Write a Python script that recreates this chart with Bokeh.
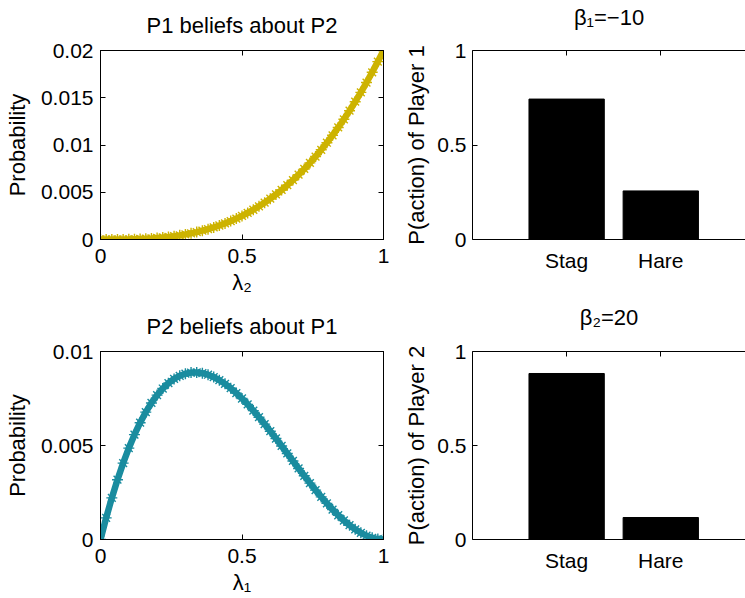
from bokeh.plotting import figure
from bokeh.models import (FixedTicker, LinearAxis, Range1d, CustomJSTickFormatter,
                          CustomLabelingPolicy)
from bokeh.layouts import gridplot
from bokeh.embed import file_html
from bokeh.resources import INLINE

# ---------------- data ----------------
lambda_grid = [0.00, 0.02, 0.04, 0.06, 0.08, 0.10, 0.12, 0.14, 0.16, 0.18,
               0.20, 0.22, 0.24, 0.26, 0.28, 0.30, 0.32, 0.34, 0.36, 0.38,
               0.40, 0.42, 0.44, 0.46, 0.48, 0.50, 0.52, 0.54, 0.56, 0.58,
               0.60, 0.62, 0.64, 0.66, 0.68, 0.70, 0.72, 0.74, 0.76, 0.78,
               0.80, 0.82, 0.84, 0.86, 0.88, 0.90, 0.92, 0.94, 0.96, 0.98, 1.00]

p1_beliefs_about_p2 = [0.0, 0.0, 0.000001, 0.000004, 0.00001, 0.00002, 0.000035, 0.000055, 0.000082, 0.000117,
                       0.00016, 0.000213, 0.000276, 0.000352, 0.000439, 0.00054, 0.000655, 0.000786, 0.000933, 0.001097,
                       0.00128, 0.001482, 0.001704, 0.001947, 0.002212, 0.0025, 0.002812, 0.003149, 0.003512, 0.003902,
                       0.00432, 0.004766, 0.005243, 0.00575, 0.006288, 0.00686, 0.007465, 0.008104, 0.00878, 0.009491,
                       0.01024, 0.011027, 0.011854, 0.012721, 0.013629, 0.01458, 0.015574, 0.016611, 0.017695, 0.018824, 0.02]

p2_beliefs_about_p1 = [0.0, 0.001152, 0.002212, 0.003181, 0.004063, 0.00486, 0.005576, 0.006213, 0.006774, 0.007262,
                       0.00768, 0.008031, 0.008317, 0.008543, 0.008709, 0.00882, 0.008878, 0.008886, 0.008847, 0.008764,
                       0.00864, 0.008477, 0.008279, 0.008048, 0.007788, 0.0075, 0.007188, 0.006856, 0.006505, 0.006139,
                       0.00576, 0.005372, 0.004977, 0.004578, 0.004178, 0.00378, 0.003387, 0.003001, 0.002627, 0.002265,
                       0.00192, 0.001594, 0.00129, 0.001011, 0.00076, 0.00054, 0.000353, 0.000203, 0.000092, 0.000024, 0.0]

actions = ["Stag", "Hare"]
p_action_player1 = [0.743, 0.257]
p_action_player2 = [0.883, 0.117]

yticks_p1 = [0, 0.005, 0.01, 0.015, 0.02]
yticks_p2 = [0, 0.005, 0.01]
xticks_lambda = [0, 0.5, 1]
yticks_bar = [0, 0.5, 1]

FONT = "Liberation Sans"
YELLOW = "#CDB300"
TEAL = "#1A8C9F"


def num_formatter():
    return CustomJSTickFormatter(code="return String(Math.round(tick*100000)/100000);")


def no_labels_policy():
    return CustomLabelingPolicy(code="for (const i of indices) { indices.unset(i) }\nreturn indices")


def style_axis(ax, ticks, show_labels=True):
    ax.ticker = FixedTicker(ticks=ticks)
    ax.major_tick_in = 5
    ax.major_tick_out = 0
    ax.minor_tick_line_color = None
    ax.axis_line_color = "black"
    ax.major_tick_line_color = "black"
    ax.major_label_text_font = FONT
    ax.major_label_text_color = "black"
    ax.major_label_text_font_size = "21px"
    if not show_labels:
        ax.major_label_policy = no_labels_policy()
        ax.major_label_text_font_size = "0px"
        ax.major_label_standoff = 0
    ax.axis_label_text_font = FONT
    ax.axis_label_text_font_size = "22px"
    ax.axis_label_text_font_style = "normal"
    ax.axis_label_text_color = "black"


def curve_panel(y, color, ymax, yticks, title, xlabel, height, top, bottom, title_standoff):
    p = figure(width=400, height=height, x_range=Range1d(0, 1), y_range=Range1d(0, ymax),
               output_backend="svg", toolbar_location=None, title=None,
               min_border_left=100, min_border_right=17,
               min_border_top=top, min_border_bottom=bottom)
    p.grid.visible = False
    p.outline_line_color = "black"
    p.background_fill_color = "white"
    p.border_fill_color = "white"
    p.line(lambda_grid, y, line_color=color, line_width=6.5)
    p.scatter(lambda_grid, y, marker="asterisk", size=11, line_color=color, line_width=1.4)
    p.xaxis.axis_label = xlabel
    p.yaxis.axis_label = "Probability"
    style_axis(p.xaxis[0], xticks_lambda)
    style_axis(p.yaxis[0], yticks)
    p.xaxis[0].formatter = num_formatter()
    p.yaxis[0].formatter = num_formatter()
    p.xaxis[0].major_label_standoff = 9
    p.yaxis[0].major_label_standoff = 7
    p.xaxis[0].axis_label_standoff = 4
    p.yaxis[0].axis_label_standoff = 8
    top_ax = LinearAxis(axis_label=title)
    style_axis(top_ax, xticks_lambda, show_labels=False)
    top_ax.axis_label_standoff = title_standoff
    p.add_layout(top_ax, "above")
    right_ax = LinearAxis()
    style_axis(right_ax, yticks, show_labels=False)
    p.add_layout(right_ax, "right")
    return p


def bar_panel(values, title, ylabel, height, top, bottom, title_standoff):
    positions = [i + 1 for i in range(len(actions))]
    p = figure(width=345, height=height, x_range=Range1d(0, 2.9), y_range=Range1d(0, 1),
               output_backend="svg", toolbar_location=None, title=None,
               min_border_left=72, min_border_right=0,
               min_border_top=top, min_border_bottom=bottom)
    p.grid.visible = False
    p.outline_line_color = None
    p.background_fill_color = "white"
    p.border_fill_color = "white"
    p.vbar(x=positions, top=values, width=0.8, fill_color="black", line_color="black")
    p.yaxis.axis_label = ylabel
    style_axis(p.xaxis[0], positions)
    style_axis(p.yaxis[0], yticks_bar)
    p.xaxis[0].major_label_overrides = {pos: name for pos, name in zip(positions, actions)}
    p.yaxis[0].formatter = num_formatter()
    p.xaxis[0].major_label_standoff = 9
    p.yaxis[0].major_label_standoff = 6
    p.yaxis[0].axis_label_standoff = 5
    top_ax = LinearAxis(axis_label=title)
    style_axis(top_ax, positions, show_labels=False)
    top_ax.axis_label_standoff = title_standoff
    p.add_layout(top_ax, "above")
    return p


p_tl = curve_panel(p1_beliefs_about_p2, YELLOW, 0.02, yticks_p1, "P1 beliefs about P2", "λ₂", 300, 50, 61, 13)
p_tr = bar_panel(p_action_player1, "β₁=−10", "P(action) of Player 1", 300, 50, 61, 21)
p_bl = curve_panel(p2_beliefs_about_p1, TEAL, 0.01, yticks_p2, "P2 beliefs about P1", "λ₁", 298, 51, 59, 13)
p_br = bar_panel(p_action_player2, "β₂=20", "P(action) of Player 2", 298, 51, 59, 22)

grid = gridplot([[p_tl, p_tr], [p_bl, p_br]], toolbar_location=None)

open("out.html", "w").write(file_html(grid, INLINE))
